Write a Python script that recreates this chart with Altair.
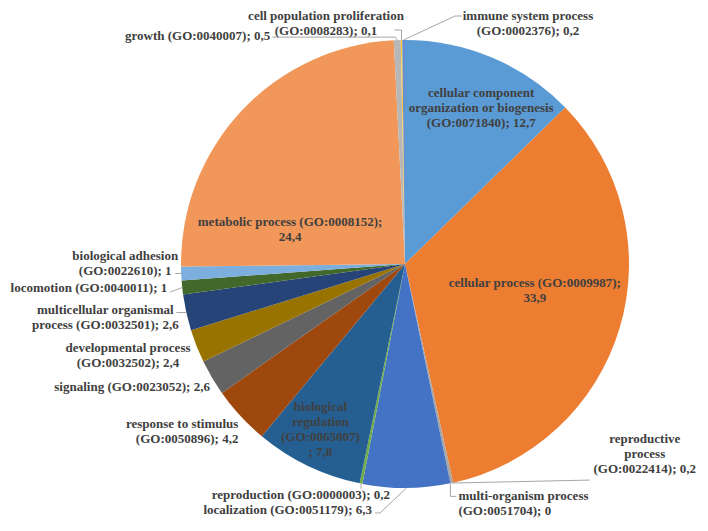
import math
import re
import altair as alt
import pandas as pd

# ---------------- data ----------------
names = [
    "cellular component organization or biogenesis",
    "cellular process",
    "reproductive process",
    "multi-organism process",
    "localization",
    "reproduction",
    "biological regulation",
    "response to stimulus",
    "signaling",
    "developmental process",
    "multicellular organismal process",
    "locomotion",
    "biological adhesion",
    "metabolic process",
    "growth",
    "cell population proliferation",
    "immune system process",
]
go_ids = [
    "GO:0071840", "GO:0009987", "GO:0022414", "GO:0051704", "GO:0051179",
    "GO:0000003", "GO:0065007", "GO:0050896", "GO:0023052", "GO:0032502",
    "GO:0032501", "GO:0040011", "GO:0022610", "GO:0008152", "GO:0040007",
    "GO:0008283", "GO:0002376",
]
values = [12.7, 33.9, 0.2, 0, 6.3, 0.2, 7.8, 4.2, 2.6, 2.4, 2.6, 1, 1, 24.4, 0.5, 0.1, 0.2]

colors = [
    "#5B9BD5", "#ED7D31", "#A5A5A5", "#FFC000", "#4472C4", "#70AD47",
    "#255E91", "#9E480E", "#636363", "#997300", "#264478", "#43682B",
    "#7CAFDD", "#F1975A", "#B7B7B7", "#FFCD33", "#698ED0",
]

# ---------------- layout (styles / label placement) ----------------
CX, CY, R = 397, 256, 224
W, H = 692, 512
FONT = "Times New Roman, Liberation Serif, serif"
FS = 13
LH = 15
TXT = "#404040"
LEADER = "#A6A6A6"

# per label: radius factor, nudge (dx, dy) of block centre, align, tokens per line,
# leader bends (offsets from slice edge)
layout = [
    (0.75, 11, -1, "center", [2, 3, 3], []),
    (0.60, 1, -12, "center", [4, 1], []),
    (1.0, 193, -29, "center", [1, 1, 3], [(138, -3)]),
    (1.0, 8, 20, "left", [2, 3], [(0, 13), (6, 13)]),
    (1.0, -34.4, 22, "right", [4], [(-26.4, 25), (-31.4, 25)]),
    (1.0, 29, 11.4, "right", [4], [(0, 5)]),
    (0.85, -2, -6, "center", [1, 1, 1, 2], []),
    (1.0, -2, 16, "right", [3, 3], []),
    (1.0, -2, 9, "right", [4], []),
    (1.0, -68.6, 9, "center", [2, 3], []),
    (1.0, -81, 5.5, "center", [2, 4], [(-10, 0)]),
    (1.0, -15, 0.5, "right", [4], [(-12, 4.5)]),
    (1.0, -56, -9.5, "center", [2, 3], [(-6, 0)]),
    (0.60, -17, 58, "center", [4, 1], []),
    (1.0, -127, -4, "right", [4], [(-2, -3), (-125, -3)]),
    (1.0, -75.5, -17, "center", [3, 3], [(0, -10), (-7, -10)]),
    (1.0, 124.4, -17, "center", [3, 3], [(51.4, -24), (58.4, -24)]),
]


def fmt(v):
    return str(int(v)) if float(v).is_integer() else str(v).replace(".", ",")


def wrap(text, counts):
    toks = re.findall(r"\(GO:\d+\)|;|[^\s;]+", text)
    lines, i = [], 0
    for c in counts:
        part = toks[i:i + c]
        i += c
        s = ""
        for t in part:
            if s and t != ";":
                s += " "
            s += t
        lines.append(s)
    return "\n".join(lines)


total = sum(values)
arc_df = pd.DataFrame({"name": names, "value": values, "idx": list(range(len(names)))})

lab_rows, seg_rows = [], []
cum = 0.0
for i, (n, g, v) in enumerate(zip(names, go_ids, values)):
    mid = (cum + v / 2) / total * 2 * math.pi
    cum += v
    k, dx, dy, align, counts, bends = layout[i]
    s, c = math.sin(mid), math.cos(mid)
    ex, ey = CX + R * s, CY - R * c
    lx = CX + k * R * s + dx
    ly = CY - k * R * c + dy - (len(counts) - 1) * LH / 2  # first line of the block
    full = f"{n} ({g}); {fmt(v)}"
    lab_rows.append({"lx": lx, "ly": ly, "label": wrap(full, counts), "align": align})
    pts = [(ex, ey)] + [(ex + bx, ey + by) for bx, by in bends]
    for (x1, y1), (x2, y2) in zip(pts[:-1], pts[1:]):
        seg_rows.append({"x1": x1, "y1": y1, "x2": x2, "y2": y2})

lab_df = pd.DataFrame(lab_rows)
seg_df = pd.DataFrame(seg_rows)

pie = alt.Chart(arc_df).mark_arc(outerRadius=R).encode(
    theta=alt.Theta("value:Q", stack=True),
    color=alt.Color("name:N", scale=alt.Scale(domain=names, range=colors), legend=None),
    order=alt.Order("idx:Q"),
    x=alt.value(CX),
    y=alt.value(CY),
)

leaders = alt.Chart(seg_df).mark_rule(color=LEADER, strokeWidth=1).encode(
    x=alt.X("x1:Q", scale=None),
    y=alt.Y("y1:Q", scale=None),
    x2="x2:Q",
    y2="y2:Q",
)

text_layers = []
for al in ["left", "center", "right"]:
    text_layers.append(
        alt.Chart(lab_df).transform_filter(alt.datum.align == al).mark_text(
            font=FONT, fontSize=FS, fontWeight="bold", color=TXT, align=al,
            baseline="middle", lineBreak="\n", lineHeight=LH,
        ).encode(
            x=alt.X("lx:Q", scale=None),
            y=alt.Y("ly:Q", scale=None),
            text="label:N",
        )
    )

chart = alt.layer(pie, leaders, *text_layers).properties(
    width=W, height=H, padding=0, autosize="none",
).configure_view(stroke=None)

chart.save("out.html", embed_options={"renderer": "svg", "actions": False})
